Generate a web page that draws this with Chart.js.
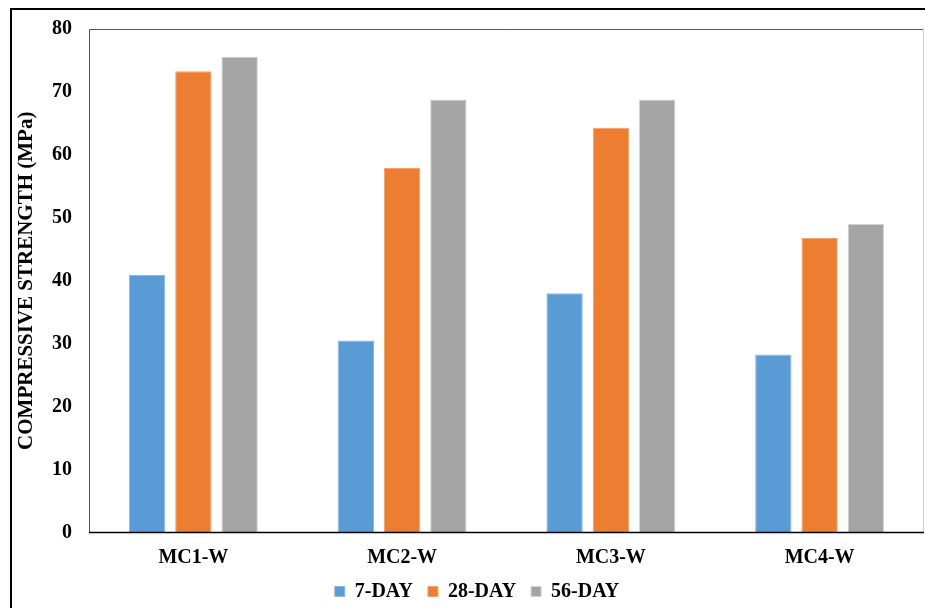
<!DOCTYPE html>
<html>
<head>
<meta charset="utf-8">
<script src="https://cdn.jsdelivr.net/npm/chart.js@4/dist/chart.umd.min.js"></script>
<style>
  html, body { margin: 0; padding: 0; background: #fff; }
  #wrap { position: relative; width: 925px; height: 608px; }
  canvas { display: block; }
</style>
</head>
<body>
<div id="wrap"><canvas id="c" width="925" height="608"></canvas></div>
<script>
const categories = ['MC1-W', 'MC2-W', 'MC3-W', 'MC4-W'];
const seriesNames = ['7-DAY', '28-DAY', '56-DAY'];
const day7  = [40.9, 30.5, 38.0, 28.3];
const day28 = [73.3, 57.9, 64.3, 46.8];
const day56 = [75.6, 68.8, 68.8, 49.0];
const yTicks = [0, 10, 20, 30, 40, 50, 60, 70, 80];
const yTitle = 'COMPRESSIVE STRENGTH (MPa)';

const FONT = '"Liberation Serif", "Times New Roman", serif';

const framePlugin = {
  id: 'frames',
  afterLayout(chart) {
    const lg = chart.legend;
    if (lg) { lg.left += 15; lg.right += 15; lg.top -= 6; lg.bottom -= 6; }
  },
  afterDraw(chart) {
    const ctx = chart.ctx;
    const a = chart.chartArea;
    ctx.save();
    // outer frame
    ctx.strokeStyle = '#000';
    ctx.lineWidth = 2;
    ctx.beginPath();
    ctx.moveTo(11, 608);
    ctx.lineTo(11, 9);
    ctx.lineTo(925, 9);
    ctx.stroke();
    // plot area frame
    ctx.lineWidth = 1;
    ctx.strokeStyle = '#555';
    ctx.beginPath();
    ctx.moveTo(a.left + 0.5, a.bottom);
    ctx.lineTo(a.left + 0.5, a.top + 0.5);
    ctx.lineTo(a.right, a.top + 0.5);
    ctx.stroke();
    ctx.strokeStyle = '#d0d0d0';
    ctx.beginPath();
    ctx.moveTo(a.right - 0.5, a.top);
    ctx.lineTo(a.right - 0.5, a.bottom);
    ctx.stroke();
    ctx.strokeStyle = '#000';
    ctx.lineWidth = 1.5;
    ctx.beginPath();
    ctx.moveTo(a.left, a.bottom);
    ctx.lineTo(a.right, a.bottom);
    ctx.stroke();
    ctx.restore();
  }
};

new Chart(document.getElementById('c'), {
  type: 'bar',
  data: {
    labels: categories,
    datasets: [
      { label: seriesNames[0], data: day7,  backgroundColor: '#5B9BD5', borderColor: '#8ab8e4', borderWidth: 1 },
      { label: seriesNames[1], data: day28, backgroundColor: '#ED7D31', borderColor: '#f5a36c', borderWidth: 1 },
      { label: seriesNames[2], data: day56, backgroundColor: '#A5A5A5', borderColor: '#d2d2d2', borderWidth: 1 }
    ]
  },
  options: {
    responsive: false,
    animation: false,
    devicePixelRatio: 1,
    layout: { padding: { left: 0, right: 1, top: 26, bottom: -9.5 } },
    datasets: { bar: { barPercentage: 0.786, categoryPercentage: 0.665 } },
    plugins: {
      tooltip: { enabled: false },
      legend: {
        position: 'bottom',
        labels: {
          boxWidth: 10, boxHeight: 10, padding: 15,
          color: '#000',
          font: { family: FONT, size: 20, weight: 'bold' }
        }
      }
    },
    scales: {
      x: {
        afterFit(scale) { scale.height = 40; },
        grid: { display: false, drawTicks: false },
        border: { display: false },
        ticks: { color: '#000', padding: 13, font: { family: FONT, size: 20, weight: 'bold' } }
      },
      y: {
        min: 0, max: 80,
        afterBuildTicks(scale) { scale.ticks = yTicks.map(v => ({ value: v })); },
        afterFit(scale) { scale.width = 89; },
        grid: { display: false, drawTicks: false },
        border: { display: false },
        ticks: { color: '#000', padding: 17, font: { family: FONT, size: 20, weight: 'bold' } },
        title: {
          display: true, text: yTitle, color: '#000',
          padding: { top: 14, bottom: 0 },
          font: { family: FONT, size: 21, weight: 'bold' }
        }
      }
    }
  },
  plugins: [framePlugin]
});
</script>
</body>
</html>
